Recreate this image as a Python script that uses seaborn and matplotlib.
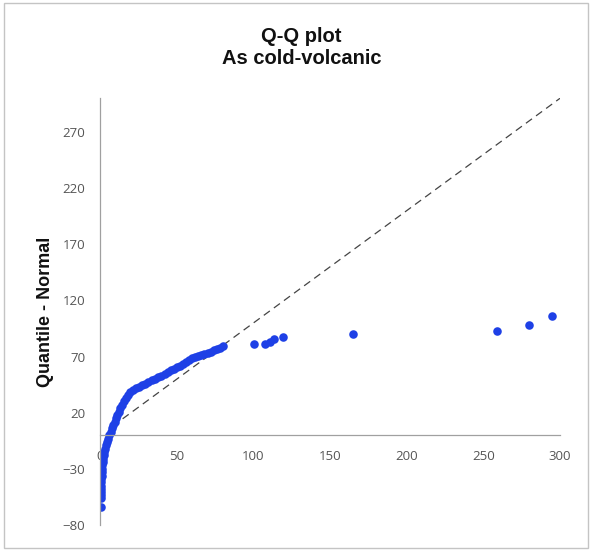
import matplotlib
matplotlib.use("Agg")
import matplotlib.pyplot as plt
import seaborn as sns
import pandas as pd
from matplotlib.patches import Rectangle

# Sorted sample values (x) and corresponding normal quantiles (y)
data_values = [
    0.2, 0.3, 0.35, 0.4, 0.45, 0.5, 0.6, 0.7, 0.8, 0.95, 1.1, 1.3, 1.55, 1.85,
    2.2, 2.6, 3.1, 3.7, 4.3, 5.0, 5.8, 6.7, 7.6, 8.5, 9.4, 10.3, 11.2, 12.1,
    13.1, 14.2, 15.3, 16.5, 17.9, 19.5, 21.2, 23.2, 25.0, 27.0, 29.0, 31.0,
    33.5, 35.5, 37.5, 39.5, 42.0, 44.0, 46.0, 48.0, 50.0, 52.0, 54.0, 56.0,
    58.0, 60.0, 62.0, 64.0, 66.0, 68.0, 70.0, 72.0, 74.0, 76.0, 78.0, 80.0,
    100.5, 107.6, 111.0, 113.6, 119.0, 165.0, 259.0, 280.0, 295.0,
]
normal_quantiles = [
    -63.7, -56.2, -53.0, -50.4, -47.5, -45.0, -42.0, -39.0, -36.0, -33.0, -30.0,
    -27.0, -24.0, -21.0, -18.0, -15.0, -12.0, -9.0, -6.0, -3.0, 0.0, 3.0, 6.0,
    9.0, 12.0, 15.0, 18.0, 21.0, 24.0, 27.0, 30.0, 33.0, 35.8, 38.2, 40.2, 42.0,
    43.2, 44.5, 45.8, 47.2, 48.8, 50.2, 51.6, 52.9, 54.8, 56.3, 57.8, 59.1, 60.3,
    61.6, 63.0, 64.8, 66.8, 68.3, 69.4, 70.4, 71.4, 72.5, 73.5, 74.5, 75.5, 76.5,
    77.8, 79.0,
    80.8, 81.1, 83.1, 85.3, 87.6, 90.0, 92.6, 98.0, 106.0,
]
ref_line_x = [8, 300]
ref_line_y = [8, 300]
x_ticks = [0, 50, 100, 150, 200, 250, 300]
y_ticks = [-80, -30, 20, 70, 120, 170, 220, 270]
title_line1 = "Q-Q plot"
title_line2 = "As cold-volcanic"
y_label = "Quantile - Normal"

sns.set_style("white")
plt.rcParams['font.family'] = ['Open Sans', 'DejaVu Sans']

W, H = 595, 551
fig = plt.figure(figsize=(W / 100, H / 100), dpi=100)
left, right = 100.3 / W, 560 / W
bottom, top = 1 - 525 / H, 1 - 98.3 / H
ax = fig.add_axes([left, bottom, right - left, top - bottom])

df = pd.DataFrame({"value": data_values, "quantile": normal_quantiles})
sns.lineplot(x=ref_line_x, y=ref_line_y, ax=ax, color="#444444", lw=0.9,
             linestyle=(0, (6, 4)), zorder=1)
sns.scatterplot(data=df, x="value", y="quantile", ax=ax, color="#1e40e6",
                s=38, linewidth=0, zorder=2)

ax.set_xlim(0, 300)
ax.set_ylim(-80, 300)
ax.set_xlabel("")
ax.set_ylabel("")
ax.spines['top'].set_visible(False)
ax.spines['right'].set_visible(False)
ax.spines['bottom'].set_position(('data', 0))
for sp in ('left', 'bottom'):
    ax.spines[sp].set_color('#a0a0a0')
    ax.spines[sp].set_linewidth(0.9)
ax.set_xticks(x_ticks)
ax.set_yticks(y_ticks)
ax.tick_params(direction='inout', length=7.5, width=0.9, color='#a0a0a0',
               labelcolor='#555555', labelsize=9.5, pad=7)
ax.grid(False)

fig.text(45.8 / W, 1 - 312 / H, y_label, rotation=90, fontsize=13,
         fontweight='bold', ha='center', va='center',
         family=['Liberation Sans', 'DejaVu Sans'], color='#111111')
fig.text(301.5 / W, 1 - 42 / H, title_line1, ha='center', va='baseline',
         fontsize=14.5, fontweight='bold',
         family=['Liberation Sans', 'DejaVu Sans'], color='#111111')
fig.text(301.5 / W, 1 - 64 / H, title_line2, ha='center', va='baseline',
         fontsize=14.5, fontweight='bold',
         family=['Liberation Sans', 'DejaVu Sans'], color='#111111')

fig.patches.append(Rectangle((4 / W, 3 / H), 584 / W, 545 / H,
                             transform=fig.transFigure, fill=False,
                             edgecolor='#c4c4c4', linewidth=1.0))

fig.savefig("out.png", dpi=100)
